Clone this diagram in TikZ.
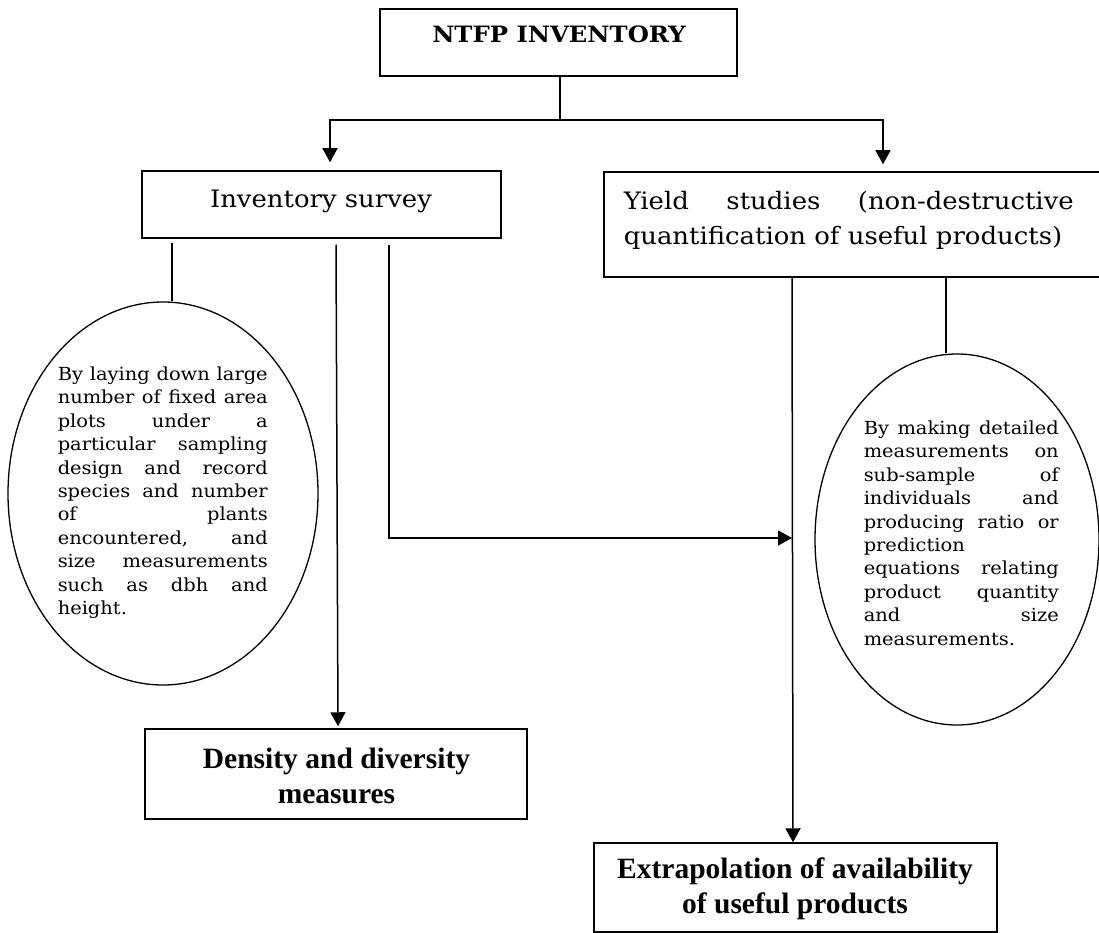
\documentclass[tikz,border=0pt]{standalone}
\usepackage{fontspec}
\setmainfont{DejaVu Serif}[FakeStretch=1.08]
\newfontfamily\timesfont{Liberation Serif}
\usetikzlibrary{shapes.geometric,arrows.meta}
\newcommand\jline[2]{\makebox[#1][s]{#2}}
\begin{document}
\begin{tikzpicture}[x=1pt,y=-1pt,line width=1.5pt,
  box/.style={draw,rectangle,inner sep=0pt},
  oval/.style={draw,ellipse,inner sep=0pt,line width=1.3pt},
  arr/.style={-{Triangle[width=15pt,length=14pt]}},
  plain/.style={inner sep=0pt,font=\fontsize{24}{35}\selectfont},
  small/.style={inner sep=0pt,anchor=north west,align=left,font=\fontsize{18}{23.4}\selectfont},
  heavy/.style={inner sep=0pt,anchor=north,align=center,font=\timesfont\bfseries\fontsize{29.5}{35}\selectfont}]
\clip (0,0) rectangle (1099,933);
\fill[white] (0,0) rectangle (1099,933);
% boxes
\node[box,minimum width=357pt,minimum height=67pt] (top) at (558.5,42.5) {};
\node[inner sep=0pt,anchor=base,font=\bfseries\fontsize{22.5}{28}\selectfont] (toptxt) at (559,43) {NTFP INVENTORY};
\node[box,minimum width=359pt,minimum height=67pt] (inv) at (321.5,204.5) {};
\node[plain,anchor=base] (invtxt) at (321,208) {Inventory survey};
\node[box,minimum width=500pt,minimum height=105pt] (yield) at (854,224.5) {};
\node[plain,anchor=north west,align=left] (yieldtxt) at (623,191) {\jline{450pt}{Yield studies (non-destructive}\\quantification of useful products)};
\node[box,minimum width=382pt,minimum height=90pt] (dens) at (336,774) {};
\node[heavy] (denstxt) at (336.5,747) {Density and diversity\\measures};
\node[box,minimum width=403pt,minimum height=89pt] (extr) at (795.5,887.5) {};
\node[heavy] (extrtxt) at (795,857) {Extrapolation of availability\\of useful products};
% ellipses
\node[oval,minimum width=310pt,minimum height=383pt] (lell) at (163,493.5) {};
\node[small] (lelltxt) at (57,366) {\jline{210pt}{By laying down large}\\
\jline{210pt}{number of fixed area}\\
\jline{210pt}{plots under a}\\
\jline{210pt}{particular sampling}\\
\jline{210pt}{design and record}\\
\jline{210pt}{species and number}\\
\jline{210pt}{of plants}\\
\jline{210pt}{encountered, and}\\
\jline{210pt}{size measurements}\\
\jline{210pt}{such as dbh and}\\
height.};
\node[oval,minimum width=284pt,minimum height=371pt] (rell) at (957,539.5) {};
\node[small] (relltxt) at (863,420) {\jline{195pt}{By making detailed}\\
\jline{195pt}{measurements on}\\
\jline{195pt}{sub-sample of}\\
\jline{195pt}{individuals and}\\
\jline{195pt}{producing ratio or}\\
prediction\\
\jline{195pt}{equations relating}\\
\jline{195pt}{product quantity}\\
\jline{195pt}{and size}\\
measurements.};
% connectors
\coordinate (j) at (560,120);
\coordinate (hit) at (792,538);
\draw ([xshift=1.5pt]top.south) -- (j);
\draw[arr] (j) -| ([xshift=8.5pt,yshift=8pt]inv.north);
\draw[arr] (j) -| ([xshift=29pt,yshift=7pt]yield.north);
\draw ([xshift=-149.5pt,yshift=-4pt]inv.south) -- ([xshift=9pt]lell.north);
\draw[arr] ([xshift=14.5pt,yshift=-6pt]inv.south) -- ([xshift=2pt,yshift=2pt]dens.north);
\draw[arr] ([xshift=67.5pt,yshift=-6pt]inv.south) |- (hit);
\draw[arr] ([xshift=-62pt]yield.south) -- ([xshift=-2.5pt]extr.north);
\draw ([xshift=92pt]yield.south) -- ([xshift=-11pt]rell.north);
\end{tikzpicture}
\end{document}
